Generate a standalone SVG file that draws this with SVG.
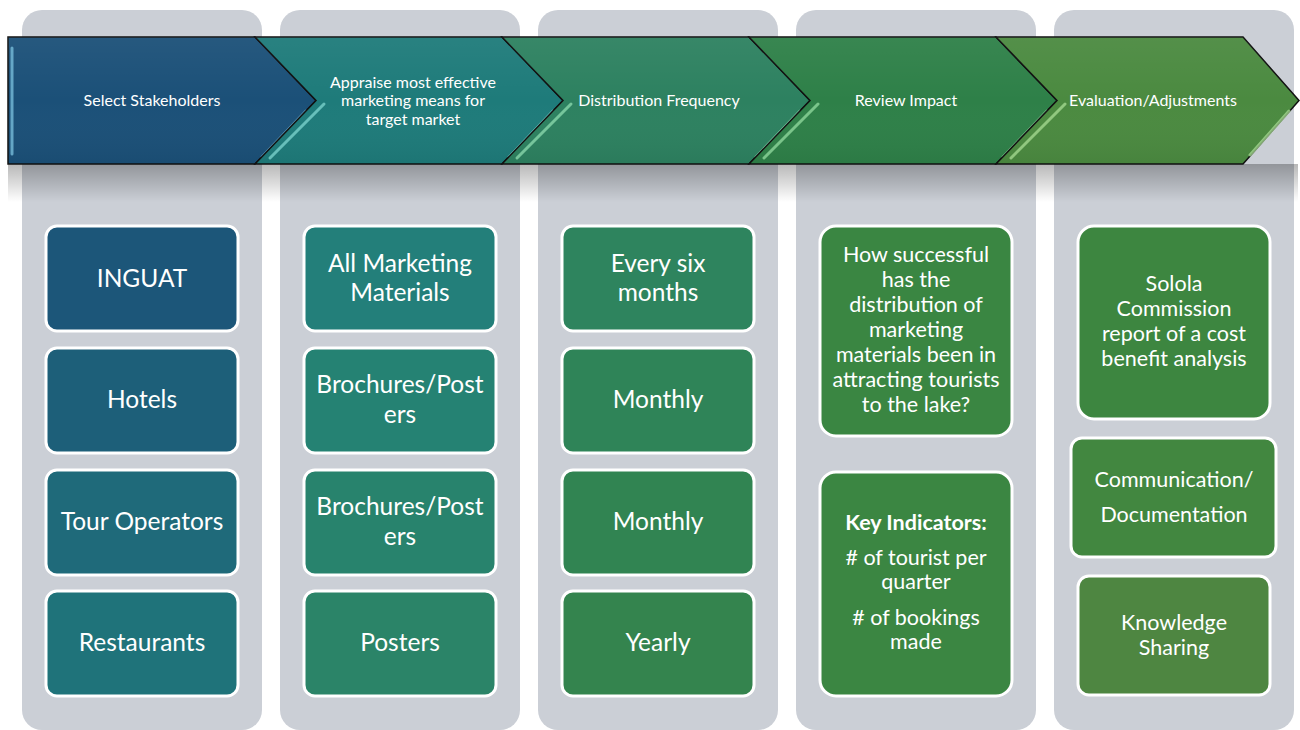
<svg xmlns="http://www.w3.org/2000/svg" width="1300" height="730" viewBox="0 0 1300 730">
<defs>
<linearGradient id="shadow" x1="0" y1="0" x2="0" y2="1">
<stop offset="0" stop-color="#000" stop-opacity="0.28"/>
<stop offset="1" stop-color="#000" stop-opacity="0"/>
</linearGradient>
<linearGradient id="gloss" x1="0" y1="0" x2="0" y2="1">
<stop offset="0" stop-color="#fff" stop-opacity="0.05"/>
<stop offset="0.5" stop-color="#fff" stop-opacity="0"/>
<stop offset="1" stop-color="#000" stop-opacity="0.05"/>
</linearGradient>
<style>
.panel{fill:#cbcfd6}
.chev{stroke:#111;stroke-width:1.5;stroke-linejoin:miter}
.hl{fill:none;stroke-width:3;stroke-linecap:round;opacity:0.75}
.box{stroke:#fff;stroke-width:3}
.ct{font-family:Lato,"Liberation Sans",sans-serif;font-size:16px;fill:#fff;text-anchor:middle}
.bt{font-family:Lato,"Liberation Sans",sans-serif;font-size:24.5px;fill:#fff;text-anchor:middle}
.st{font-family:Lato,"Liberation Sans",sans-serif;font-size:21.5px;fill:#fff;text-anchor:middle}
</style>
</defs>
<rect width="1300" height="730" fill="#fff"/>
<g id="panels">
<rect class="panel" x="22" y="10" width="240" height="720" rx="20"/>
<rect class="panel" x="280" y="10" width="240" height="720" rx="20"/>
<rect class="panel" x="538" y="10" width="240" height="720" rx="20"/>
<rect class="panel" x="796" y="10" width="240" height="720" rx="20"/>
<rect class="panel" x="1054" y="10" width="240" height="720" rx="20"/>
</g>
<rect x="8" y="164" width="1290" height="38" fill="url(#shadow)"/>
<g id="banner">
<g id="step1">
<path class="chev" fill="#1b5078" d="M8,37 H255 L316,100.5 L255,164 H8 Z"/>
<path fill="url(#gloss)" d="M8,37 H255 L316,100.5 L255,164 H8 Z"/>
<path class="hl" stroke="#7cc3e0" d="M12,48 V154"/>
<path class="hl" stroke="#6fb6d6" d="M306,111 L262,157"/>
<text class="ct" x="152" y="106">Select Stakeholders</text>
</g>
<g id="step2">
<path class="chev" fill="#1e7b7a" d="M255,37 H502 L563,100.5 L502,164 H255 L316,100.5 Z"/>
<path fill="url(#gloss)" d="M255,37 H502 L563,100.5 L502,164 H255 L316,100.5 Z"/>
<path class="hl" stroke="#7fd6d0" d="M324,104 L270,158"/>
<path class="hl" stroke="#7fd6d0" d="M553,111 L509,157"/>
<text class="ct" x="413" y="88">Appraise most effective</text>
<text class="ct" x="413" y="106">marketing means for</text>
<text class="ct" x="413" y="125">target market</text>
</g>
<g id="step3">
<path class="chev" fill="#2d8160" d="M502,37 H749 L810,100.5 L749,164 H502 L563,100.5 Z"/>
<path fill="url(#gloss)" d="M502,37 H749 L810,100.5 L749,164 H502 L563,100.5 Z"/>
<path class="hl" stroke="#8fdcb0" d="M571,104 L517,158"/>
<path class="hl" stroke="#8fdcb0" d="M800,111 L756,157"/>
<text class="ct" x="659" y="106">Distribution Frequency</text>
</g>
<g id="step4">
<path class="chev" fill="#2e8048" d="M749,37 H996 L1057,100.5 L996,164 H749 L810,100.5 Z"/>
<path fill="url(#gloss)" d="M749,37 H996 L1057,100.5 L996,164 H749 L810,100.5 Z"/>
<path class="hl" stroke="#94dca0" d="M818,104 L764,158"/>
<path class="hl" stroke="#94dca0" d="M1047,111 L1003,157"/>
<text class="ct" x="906" y="106">Review Impact</text>
</g>
<g id="step5">
<path class="chev" fill="#4b8a40" d="M996,37 H1243 L1299,100.5 L1243,164 H996 L1057,100.5 Z"/>
<path fill="url(#gloss)" d="M996,37 H1243 L1299,100.5 L1243,164 H996 L1057,100.5 Z"/>
<path class="hl" stroke="#a8dc94" d="M1065,104 L1011,158"/>
<path class="hl" stroke="#a8dc94" d="M1289,111 L1250,155"/>
<text class="ct" x="1153" y="106">Evaluation/Adjustments</text>
</g>
</g>
<g id="connectors"/>
<g id="col1">
<g id="inguat"><rect class="box" x="46" y="226" width="192" height="105" rx="11" fill="#1c5679"/><text class="bt" x="142" y="287">INGUAT</text></g>
<g id="hotels"><rect class="box" x="46" y="348" width="192" height="105" rx="11" fill="#1d5f79"/><text class="bt" x="142" y="408">Hotels</text></g>
<g id="tourops"><rect class="box" x="46" y="470" width="192" height="105" rx="11" fill="#1f6a7a"/><text class="bt" x="142" y="530">Tour Operators</text></g>
<g id="restaurants"><rect class="box" x="46" y="591" width="192" height="105" rx="11" fill="#1f737a"/><text class="bt" x="142" y="651">Restaurants</text></g>
</g>
<g id="col2">
<g id="allmat"><rect class="box" x="304" y="226" width="192" height="105" rx="11" fill="#237f7a"/><text class="bt" x="400" y="272">All Marketing</text><text class="bt" x="400" y="301">Materials</text></g>
<g id="broch1"><rect class="box" x="304" y="348" width="192" height="105" rx="11" fill="#258273"/><text class="bt" x="400" y="393">Brochures/Post</text><text class="bt" x="400" y="423">ers</text></g>
<g id="broch2"><rect class="box" x="304" y="470" width="192" height="105" rx="11" fill="#28836d"/><text class="bt" x="400" y="515">Brochures/Post</text><text class="bt" x="400" y="545">ers</text></g>
<g id="posters"><rect class="box" x="304" y="591" width="192" height="105" rx="11" fill="#2b8468"/><text class="bt" x="400" y="651">Posters</text></g>
</g>
<g id="col3">
<g id="sixmonths"><rect class="box" x="562" y="226" width="192" height="105" rx="11" fill="#2e845e"/><text class="bt" x="658" y="272">Every six</text><text class="bt" x="658" y="301">months</text></g>
<g id="monthly1"><rect class="box" x="562" y="348" width="192" height="105" rx="11" fill="#2f8458"/><text class="bt" x="658" y="408">Monthly</text></g>
<g id="monthly2"><rect class="box" x="562" y="470" width="192" height="105" rx="11" fill="#318452"/><text class="bt" x="658" y="530">Monthly</text></g>
<g id="yearly"><rect class="box" x="562" y="591" width="192" height="105" rx="11" fill="#34844e"/><text class="bt" x="658" y="651">Yearly</text></g>
</g>
<g id="col4">
<g id="question"><rect class="box" x="820" y="226" width="192" height="210" rx="16" fill="#3a8642"/>
<text class="st" x="916" y="262">How successful</text>
<text class="st" x="916" y="287">has the</text>
<text class="st" x="916" y="312">distribution of</text>
<text class="st" x="916" y="337">marketing</text>
<text class="st" x="916" y="362">materials been  in</text>
<text class="st" x="916" y="387">attracting tourists</text>
<text class="st" x="916" y="412">to the lake?</text></g>
<g id="indicators"><rect class="box" x="820" y="472" width="192" height="224" rx="16" fill="#3b8642"/>
<text class="st" x="916" y="530" font-weight="bold">Key Indicators:</text>
<text class="st" x="916" y="565">#  of tourist per</text>
<text class="st" x="916" y="589">quarter</text>
<text class="st" x="916" y="625"># of bookings</text>
<text class="st" x="916" y="649">made</text></g>
</g>
<g id="col5">
<g id="solola"><rect class="box" x="1078" y="226" width="192" height="193" rx="16" fill="#3d8640"/>
<text class="st" x="1174" y="291">Solola</text>
<text class="st" x="1174" y="316">Commission</text>
<text class="st" x="1174" y="341">report of a cost</text>
<text class="st" x="1174" y="366">benefit analysis</text></g>
<g id="communication"><rect class="box" x="1071" y="438" width="205" height="119" rx="11" fill="#428740"/>
<text class="st" x="1174" y="487">Communication/</text>
<text class="st" x="1174" y="522">Documentation</text></g>
<g id="knowledge"><rect class="box" x="1078" y="576" width="192" height="119" rx="11" fill="#4e8641"/>
<text class="st" x="1174" y="630">Knowledge</text>
<text class="st" x="1174" y="655">Sharing</text></g>
</g>
</svg>
